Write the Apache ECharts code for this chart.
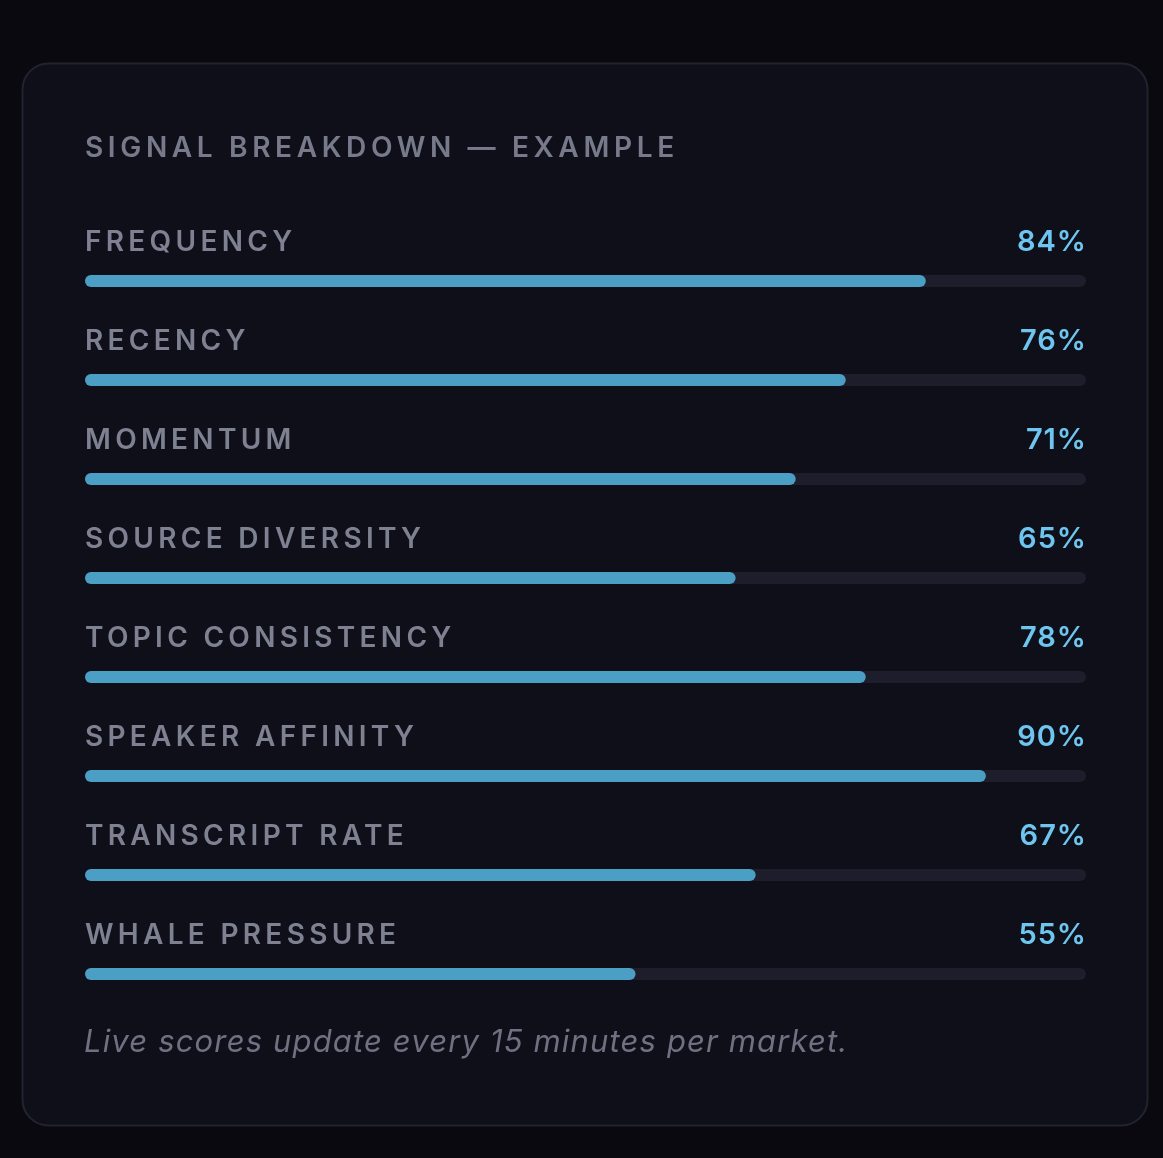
<!DOCTYPE html>
<html>
<head>
<meta charset="utf-8">
<title>Signal breakdown</title>
<script src="https://cdn.jsdelivr.net/npm/echarts@6/dist/echarts.min.js"></script>
<style>
    html, body { margin: 0; padding: 0; background: #09090f; }
    #chart { width: 1163px; height: 1158px; }
</style>
</head>
<body>
<div id="chart"></div>
<script>
var signals = ['FREQUENCY', 'RECENCY', 'MOMENTUM', 'SOURCE DIVERSITY',
    'TOPIC CONSISTENCY', 'SPEAKER AFFINITY', 'TRANSCRIPT RATE', 'WHALE PRESSURE'];
var scores = [84, 76, 71, 65, 78, 90, 67, 55];
var titleText = 'SIGNAL BREAKDOWN \u2014 EXAMPLE';
var footText = 'Live scores update every 15 minutes per market.';

// echarts has no letter-spacing, so set it on the canvas per font
function spacingFor(font) {
    if (/italic/.test(font)) return '1.15px';
    if (/29px/.test(font)) return '1px';
    if (/28\.1px/.test(font)) return '4.6px';
    if (/28px/.test(font)) return '4.3px';
    return '0px';
}
var proto = CanvasRenderingContext2D.prototype;
var origFill = proto.fillText;
var origMeasure = proto.measureText;
proto.fillText = function () {
    this.letterSpacing = spacingFor(this.font);
    return origFill.apply(this, arguments);
};
proto.measureText = function () {
    this.letterSpacing = spacingFor(this.font);
    return origMeasure.apply(this, arguments);
};

window.onload = function () {
    var chart = echarts.init(document.getElementById('chart'), null, {renderer: 'canvas'});

    var option = {
        backgroundColor: '#09090f',
        animation: false,
        graphic: [
            {
                type: 'rect',
                z: -10,
                shape: {x: 22.5, y: 63.5, width: 1125, height: 1062, r: 26},
                style: {fill: '#0e0f18', stroke: '#22232f', lineWidth: 2}
            },
            {
                type: 'text',
                x: 85, y: 149,
                style: {
                    text: titleText,
                    fill: '#767a8b',
                    font: '600 28.1px Inter',
                    verticalAlign: 'middle'
                }
            },
            {
                type: 'text',
                x: 84, y: 1043,
                style: {
                    text: footText,
                    fill: '#6f7182',
                    font: 'italic 400 31px Inter',
                    verticalAlign: 'middle'
                }
            }
        ],
        grid: {left: 85, right: 77, top: 231.5, bottom: 134.5},
        xAxis: {type: 'value', min: 0, max: 100, show: false},
        yAxis: [
            {
                type: 'category',
                data: signals,
                inverse: true,
                show: false
            },
            {
                type: 'category',
                position: 'right',
                data: scores.map(function (v) { return v + '%'; }),
                inverse: true,
                axisLine: {show: false},
                axisTick: {show: false},
                axisLabel: {
                    inside: true,
                    margin: -1,
                    color: '#6ec6f0',
                    fontFamily: 'Inter',
                    fontWeight: 600,
                    fontSize: 29,
                    verticalAlign: 'bottom',
                    lineHeight: 77
                }
            }
        ],
        series: [{
            type: 'bar',
            data: scores,
            barWidth: 12,
            showBackground: true,
            backgroundStyle: {color: '#1d1d2c', borderRadius: 6},
            itemStyle: {color: '#4b9fc5', borderRadius: 6},
            label: {
                show: true,
                position: [0, -32],
                align: 'left',
                verticalAlign: 'middle',
                color: '#7e8191',
                fontFamily: 'Inter',
                fontWeight: 600,
                fontSize: 28,
                formatter: function (p) { return p.name; }
            }
        }]
    };

    chart.setOption(option);
};
</script>
</body>
</html>
